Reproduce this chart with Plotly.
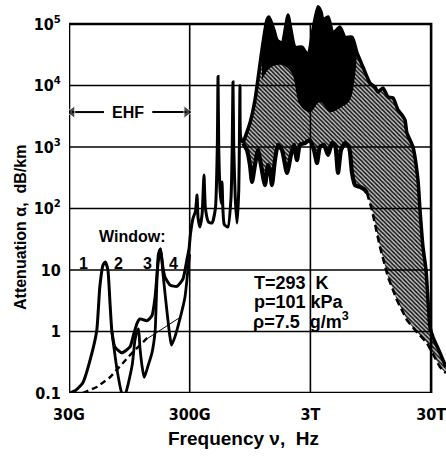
import numpy as np
import plotly.graph_objects as go

# ---------------- data (frequency in GHz, attenuation in dB/km) ----------------
main_f = [30, 34, 39, 46.5, 51, 54, 57.4, 60, 63, 65.6, 68, 72, 82, 96, 103, 110, 116, 133, 146, 155,
          164, 172, 180, 187, 206, 235, 264, 285, 296, 305, 320, 335, 345, 352, 365, 380, 394, 405,
          430, 459, 490, 508, 515, 522, 535, 548, 556, 565, 580, 622, 660, 675, 685, 695, 715, 740,
          765, 775, 783, 792, 829]
main_a = [0.1, 0.11, 0.146, 0.45, 1.06, 5.3, 12, 13.5, 10, 2.9, 1.0, 0.56, 0.45, 0.56, 0.9, 1.37, 1.6, 1.5, 1.8, 3.6,
          13, 22, 11, 7.7, 5.7, 5.4, 7.2, 15, 22, 40, 70, 90, 166, 70, 50, 80, 350, 100,
          60, 58, 100, 1000, 14000, 1000, 200, 120, 270, 100, 55, 50, 150, 1000, 11400, 1000, 150, 58,
          200, 1500, 10000, 1500, 1160]

low_f = [68, 75, 82, 86, 100, 105.6, 110, 113, 116, 121, 126, 135, 146, 155, 160, 165, 172, 180, 195,
         206, 212, 226, 249, 274, 290, 300]
low_a = [1.0, 0.24, 0.1, 0.085, 0.28, 0.73, 1.0, 1.1, 0.56, 0.27, 0.18, 0.27, 0.45, 1.0, 5.4, 18, 22, 8.9, 2.0,
         0.81, 0.6, 0.81, 1.6, 3.6, 10, 18]

cont_f = [39, 51, 65.6, 84, 100, 121, 135.5]
cont_a = [0.1, 0.125, 0.18, 0.31, 0.45, 0.65, 0.81]
thin_f = [135.5, 250]
thin_a = [0.78, 1.7]

up_f = [829, 950, 1042, 1191, 1310, 1361, 1497, 1585, 1745, 1884, 1955, 2070, 2235, 2553, 2866, 3153,
        3467, 3672, 3813, 4198, 4617, 5275, 5803, 6637, 7300, 8185, 9350, 10286, 10890, 11970, 13180,
        14500, 15950, 17220, 18230, 18920, 21230, 23350, 24270, 25700, 27230, 28270, 29380, 31100,
        35550, 39800]
up_a = [1160, 2500, 5800, 37800, 116000, 130000, 80000, 55000, 49000, 96000, 140000, 80000, 42000, 42000,
        31000, 80000, 190000, 157000, 116000, 130000, 71000, 89000, 61000, 61000, 34000, 20000, 11000, 9460,
        7840, 9120, 6500, 6270, 4000, 3310, 2750, 1690, 1000, 290, 95, 23.7, 10, 3.25, 1.18, 0.81, 0.45, 0.265]

lo_f = [829, 895, 947, 985, 1042, 1104, 1169, 1261, 1336, 1387, 1441, 1526, 1617, 1745, 1919, 2070, 2193,
        2323, 2459, 2705, 2976, 3213, 3404, 3601, 3890, 4198, 4529, 4795, 5080, 5383, 5803, 6266, 6637,
        7023, 7726, 8499, 8830]
lo_a = [1160, 890, 510, 270, 510, 890, 510, 240, 510, 423, 240, 615, 1080, 890, 378, 741, 1080, 615, 1080,
        1160, 1300, 890, 550, 1000, 1080, 741, 1160, 1080, 378, 890, 1160, 1000, 378, 240, 224, 200, 179]

dash_f = [8830, 9710, 11316, 13180, 15630, 18920, 22080, 27730, 35560, 39800]
dash_a = [179, 95, 23.7, 7.7, 3.25, 1.54, 1.06, 0.65, 0.265, 0.21]

core_f = [1191, 1387, 1745, 2100, 2459, 2976, 3601, 4358, 5275, 6384, 7300]
core_a = [12300, 19300, 21500, 16000, 4820, 3700, 5400, 3700, 4300, 5800, 34000]

ehf_f = [30, 300]          # EHF band edges, GHz
ehf_level = 3700           # dB/km level of the EHF arrow

x_ticks = [3e10, 3e11, 3e12, 3e13]
x_labels = ["30G", "300G", "3T", "30T"]
y_ticks = [0.1, 1, 10, 1e2, 1e3, 1e4, 1e5]
y_labels = ["0.1", "1", "10", "10<sup>2</sup>", "10<sup>3</sup>", "10<sup>4</sup>", "10<sup>5</sup>"]
x_grid = [3e11, 3e12]

# ---------------- figure ----------------
W, H = 446, 456
L, R, T, B = 69, 0, 0, 63
DEC_X, DEC_Y = 120.7, 61.5
xr0 = np.log10(3e10)
xr1 = xr0 + (W - L - R) / DEC_X
yr0 = -1.0
yr1 = yr0 + (H - T - B) / DEC_Y

G = 1e9
def hz(lst):
    return [v * G for v in lst]

TICKFONT = "Liberation Sans Narrow, DejaVu Sans Condensed, Liberation Sans, sans-serif"
TXTFONT = "Liberation Sans, DejaVu Sans, sans-serif"

fig = go.Figure()

# hatched band between upper and lower envelope
band_x = hz(up_f) + hz(dash_f)[::-1] + hz(lo_f)[::-1]
band_y = up_a + dash_a[::-1] + lo_a[::-1]
fig.add_trace(go.Scatter(x=band_x, y=band_y, mode="lines", fill="toself", line=dict(width=0),
                         fillcolor="rgba(0,0,0,0)",
                         fillpattern=dict(shape="\\", fgcolor="#111", bgcolor="#c4c4c4", size=3, solidity=0.5),
                         hoverinfo="skip"))

# dense dark core
cx = [f for f in up_f if core_f[0] <= f <= core_f[-1]]
cy = [a for f, a in zip(up_f, up_a) if core_f[0] <= f <= core_f[-1]]
fig.add_trace(go.Scatter(x=hz(cx) + hz(core_f)[::-1], y=cy + core_a[::-1], mode="lines", fill="toself",
                         fillcolor="black", line=dict(width=0, shape="spline"), hoverinfo="skip"))

# gridlines & frame
for yv in y_ticks:
    fig.add_trace(go.Scatter(x=[x_ticks[0], x_ticks[-1]], y=[yv, yv], mode="lines",
                             line=dict(color="black", width=1.6), hoverinfo="skip"))
for xv in x_grid:
    fig.add_trace(go.Scatter(x=[xv, xv], y=[y_ticks[0], y_ticks[-1]], mode="lines",
                             line=dict(color="black", width=1.6), hoverinfo="skip"))
fig.add_trace(go.Scatter(x=[x_ticks[0], x_ticks[-1], x_ticks[-1], x_ticks[0], x_ticks[0]],
                         y=[y_ticks[0], y_ticks[0], y_ticks[-1], y_ticks[-1], y_ticks[0]],
                         mode="lines", line=dict(color="black", width=2.6), hoverinfo="skip"))

# EHF arrow (two segments with arrow heads, gap for the label)
lg0, lg1 = np.log10(ehf_f[0]), np.log10(ehf_f[1])
gap_l = 10 ** (lg0 + 0.29 * (lg1 - lg0))
gap_r = 10 ** (lg0 + 0.69 * (lg1 - lg0))
fig.add_trace(go.Scatter(x=[gap_l * G, ehf_f[0] * G * 1.06], y=[ehf_level, ehf_level], mode="lines+markers",
                         line=dict(color="black", width=2),
                         marker=dict(symbol=["circle", "triangle-left"], size=[0, 11], color="black"),
                         hoverinfo="skip"))
fig.add_trace(go.Scatter(x=[gap_r * G, ehf_f[1] * G / 1.06], y=[ehf_level, ehf_level], mode="lines+markers",
                         line=dict(color="black", width=2),
                         marker=dict(symbol=["circle", "triangle-right"], size=[0, 11], color="black"),
                         hoverinfo="skip"))

# curves
fig.add_trace(go.Scatter(x=hz(cont_f), y=cont_a, mode="lines",
                         line=dict(color="black", width=2.4, dash="6px,4px"), hoverinfo="skip"))
fig.add_trace(go.Scatter(x=hz(thin_f), y=thin_a, mode="lines",
                         line=dict(color="black", width=1.0), hoverinfo="skip"))
fig.add_trace(go.Scatter(x=hz(low_f), y=low_a, mode="lines",
                         line=dict(color="black", width=2.8, shape="spline", smoothing=0.6), hoverinfo="skip"))
fig.add_trace(go.Scatter(x=hz(main_f), y=main_a, mode="lines",
                         line=dict(color="black", width=3.0, shape="spline", smoothing=0.5), hoverinfo="skip"))
fig.add_trace(go.Scatter(x=hz(up_f), y=up_a, mode="lines",
                         line=dict(color="black", width=3.5, shape="spline", smoothing=0.6), hoverinfo="skip"))
fig.add_trace(go.Scatter(x=hz(lo_f), y=lo_a, mode="lines",
                         line=dict(color="black", width=4.2, shape="spline", smoothing=0.6), hoverinfo="skip"))
fig.add_trace(go.Scatter(x=hz(dash_f), y=dash_a, mode="lines",
                         line=dict(color="black", width=2.6, dash="7px,4px"), hoverinfo="skip"))

# ---------------- annotations ----------------
def px(x):
    return (x - L) / (W - L - R)

def py(y):
    return (H - B - y) / (H - T - B)

ann = []
def text(s, x, y, size=15, anchor="center", font=TXTFONT, angle=0):
    ann.append(dict(text=s, x=px(x), y=py(y), xref="paper", yref="paper", textangle=angle,
                    xanchor=anchor, yanchor="middle", showarrow=False,
                    font=dict(family=font, size=size, color="black", weight="bold")))

text("EHF", 128, 112, 16)
text("Window:", 132, 236, 16)
for s, xx in [("1", 83), ("2", 118), ("3", 147), ("4", 173)]:
    text(s, xx, 263, 16)
text("T=293\u00a0\u00a0K", 252, 283, 18, anchor="left")
text("p=101 kPa", 252, 302, 18, anchor="left")
text("\u03c1=7.5\u00a0\u00a0g/m<sup>3</sup>", 251, 320, 18, anchor="left")
text("Frequency \u03bd,\u00a0\u00a0Hz", 243, 438, 19)
text("Attenuation \u03b1,\u00a0\u00a0dB/km", 20, 228, 16, angle=-90)

fig.update_layout(
    template="none", width=W, height=H, margin=dict(l=L, r=R, t=T, b=B, autoexpand=False),
    plot_bgcolor="white", paper_bgcolor="white", showlegend=False, annotations=ann,
    xaxis=dict(type="log", range=[xr0, xr1], showgrid=False, zeroline=False, showline=False,
               tickvals=x_ticks, ticktext=x_labels, ticks="outside", ticklen=7,
               tickcolor="rgba(0,0,0,0)", automargin=False, ticklabeloverflow="allow",
               tickfont=dict(family=TICKFONT, size=16, color="black", weight="bold")),
    yaxis=dict(type="log", range=[yr0, yr1], showgrid=False, zeroline=False, showline=False,
               tickvals=y_ticks, ticktext=y_labels, ticks="outside", ticklen=4,
               tickcolor="rgba(0,0,0,0)", automargin=False,
               tickfont=dict(family=TICKFONT, size=16, color="black", weight="bold")),
)

fig.write_html("out.html", config={"displayModeBar": False},
               post_script="document.body.style.margin='0';document.body.style.padding='0';")
